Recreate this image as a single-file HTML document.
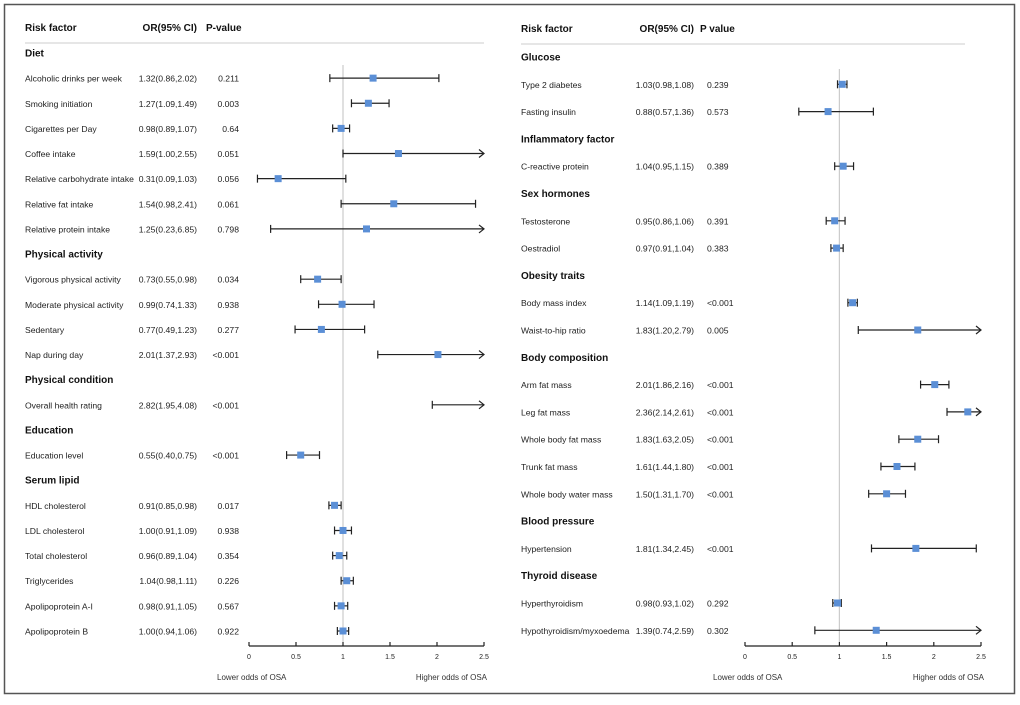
<!DOCTYPE html>
<html><head><meta charset="utf-8"><style>
body{margin:0;background:#fff;width:1020px;height:700px;overflow:hidden;font-family:"Liberation Sans",Arial,sans-serif}
</style></head><body>
<svg id="chart" width="1020" height="700" xmlns="http://www.w3.org/2000/svg" font-family="Liberation Sans, Arial, sans-serif">
<rect x="4.5" y="4.5" width="1010" height="689" fill="none" stroke="#555" stroke-width="1.5"/>
</svg>
<script>
// Left panel data
const leftLabels=["Diet","Alcoholic drinks per week","Smoking initiation","Cigarettes per Day","Coffee intake","Relative carbohydrate intake","Relative fat intake","Relative protein intake","Physical activity","Vigorous physical activity","Moderate physical activity","Sedentary","Nap during day","Physical condition","Overall health rating","Education","Education level","Serum lipid","HDL cholesterol","LDL cholesterol","Total cholesterol","Triglycerides","Apolipoprotein A-I","Apolipoprotein B"];
const leftOR=[null,1.32,1.27,0.98,1.59,0.31,1.54,1.25,null,0.73,0.99,0.77,2.01,null,2.82,null,0.55,null,0.91,1.00,0.96,1.04,0.98,1.00];
const leftLo=[null,0.86,1.09,0.89,1.00,0.09,0.98,0.23,null,0.55,0.74,0.49,1.37,null,1.95,null,0.40,null,0.85,0.91,0.89,0.98,0.91,0.94];
const leftHi=[null,2.02,1.49,1.07,2.55,1.03,2.41,6.85,null,0.98,1.33,1.23,2.93,null,4.08,null,0.75,null,0.98,1.09,1.04,1.11,1.05,1.06];
const leftP=[null,"0.211","0.003","0.64","0.051","0.056","0.061","0.798",null,"0.034","0.938","0.277","<0.001",null,"<0.001",null,"<0.001",null,"0.017","0.938","0.354","0.226","0.567","0.922"];
// Right panel data
const rightLabels=["Glucose","Type 2 diabetes","Fasting insulin","Inflammatory factor","C-reactive protein","Sex hormones","Testosterone","Oestradiol","Obesity traits","Body mass index","Waist-to-hip ratio","Body composition","Arm fat mass","Leg fat mass","Whole body fat mass","Trunk fat mass","Whole body water mass","Blood pressure","Hypertension","Thyroid disease","Hyperthyroidism","Hypothyroidism/myxoedema"];
const rightOR=[null,1.03,0.88,null,1.04,null,0.95,0.97,null,1.14,1.83,null,2.01,2.36,1.83,1.61,1.50,null,1.81,null,0.98,1.39];
const rightLo=[null,0.98,0.57,null,0.95,null,0.86,0.91,null,1.09,1.20,null,1.86,2.14,1.63,1.44,1.31,null,1.34,null,0.93,0.74];
const rightHi=[null,1.08,1.36,null,1.15,null,1.06,1.04,null,1.19,2.79,null,2.16,2.61,2.05,1.80,1.70,null,2.45,null,1.02,2.59];
const rightP=[null,"0.239","0.573",null,"0.389",null,"0.391","0.383",null,"<0.001","0.005",null,"<0.001","<0.001","<0.001","<0.001","<0.001",null,"<0.001",null,"0.292","0.302"];
const tickVals=[0,0.5,1,1.5,2,2.5];
const tickLabels=["0","0.5","1","1.5","2","2.5"];

const svg=document.getElementById('chart');
const NS="http://www.w3.org/2000/svg";
function mk(tag,attrs,text){const e=document.createElementNS(NS,tag);for(const k in attrs)e.setAttribute(k,attrs[k]);if(text!=null)e.textContent=text;svg.appendChild(e);return e;}
function fmt(v){return v.toFixed(2);}
const FS=8.6;

function panel(cfg,labels,or,lo,hi,pv){
  const x=v=>cfg.x0+(v-0)*(cfg.x25-cfg.x0)/2.5;
  const y=i=>cfg.y0+i*cfg.dy;
  let t;
  t=mk('text',{x:cfg.nameX,y:cfg.hy,'font-size':10,'font-weight':'bold',fill:'#111'},'Risk factor');
  
  
  t=mk('text',{x:cfg.orX,y:cfg.hy,'font-size':10,'font-weight':'bold','text-anchor':'end',fill:'#111'},'OR(95% CI)');
  
  
  t=mk('text',{x:cfg.pHX,y:cfg.hy,'font-size':10,'font-weight':'bold',fill:'#111'},cfg.pTitle);
  
  
  t=mk('line',{x1:cfg.nameX,x2:cfg.lineEnd,y1:cfg.hy+12,y2:cfg.hy+12,stroke:'#ddd','stroke-width':1.5});
  
  
  t=mk('line',{x1:x(1),x2:x(1),y1:y(0)+12,y2:cfg.axisY-4,stroke:'#ccc','stroke-width':1.2});
  
  
  labels.forEach((lab,i)=>{
    const yy=y(i);
    if(or[i]==null){
      t=mk('text',{x:cfg.nameX,y:yy+3.5,'font-size':10,'font-weight':'bold',fill:'#111'},lab);
      
      
      return;
    }
    t=mk('text',{x:cfg.nameX,y:yy+3.5,'font-size':FS,fill:'#222'},lab);
    
    
    t=mk('text',{x:cfg.orX,y:yy+3.5,'font-size':FS,'text-anchor':'end',fill:'#222'},fmt(or[i])+'('+fmt(lo[i])+','+fmt(hi[i])+')');
    
    
    t=mk('text',{x:cfg.pX,y:yy+3.5,'font-size':FS,'text-anchor':cfg.pAnchor,fill:'#222'},pv[i]);
    
    
    const over=hi[i]>2.5;
    const xl=x(Math.max(0,lo[i])), xr=x(Math.min(2.5,hi[i]));
    t=mk('line',{x1:xl,x2:xr,y1:yy,y2:yy,stroke:'#222','stroke-width':1.2});
    
    
    t=mk('line',{x1:xl,x2:xl,y1:yy-4,y2:yy+4,stroke:'#222','stroke-width':1.2});
    
    
    if(over){
      t=mk('path',{d:`M${xr-5},${yy-4} L${xr},${yy} L${xr-5},${yy+4}`,fill:'none',stroke:'#222','stroke-width':1.2});
      
      
    } else {
      t=mk('line',{x1:xr,x2:xr,y1:yy-4,y2:yy+4,stroke:'#222','stroke-width':1.2});
      
      
    }
    if(or[i]<=2.5){
      t=mk('rect',{x:x(or[i])-3.5,y:yy-3.5,width:7,height:7,fill:'#5b8fd6'});
      
      
    }
  });
  t=mk('line',{x1:x(0),x2:x(2.5),y1:cfg.axisY,y2:cfg.axisY,stroke:'#222','stroke-width':1.2});
  
  
  tickVals.forEach((v,k)=>{
    t=mk('line',{x1:x(v),x2:x(v),y1:cfg.axisY,y2:cfg.axisY-4,stroke:'#222','stroke-width':1.2});
    
    
    t=mk('text',{x:x(v),y:cfg.axisY+13,'font-size':7,'text-anchor':'middle',fill:'#222'},tickLabels[k]);
    
    
  });
  t=mk('text',{x:x(0)-32,y:cfg.axisY+34,'font-size':8,fill:'#333'},'Lower odds of OSA');
  
  
  t=mk('text',{x:x(2.5)+3,y:cfg.axisY+34,'font-size':8,'text-anchor':'end',fill:'#333'},'Higher odds of OSA');
  
  
}
panel({x0:249,x25:484,y0:53,dy:25.13,nameX:25,orX:197,pX:239,pAnchor:'end',pHX:206,pTitle:'P-value',hy:31,lineEnd:484,axisY:646},leftLabels,leftOR,leftLo,leftHi,leftP);
panel({x0:745,x25:981,y0:57,dy:27.3,nameX:521,orX:694,pX:707,pAnchor:'start',pHX:700,pTitle:'P value',hy:32,lineEnd:965,axisY:646},rightLabels,rightOR,rightLo,rightHi,rightP);
</script>
</body></html>
